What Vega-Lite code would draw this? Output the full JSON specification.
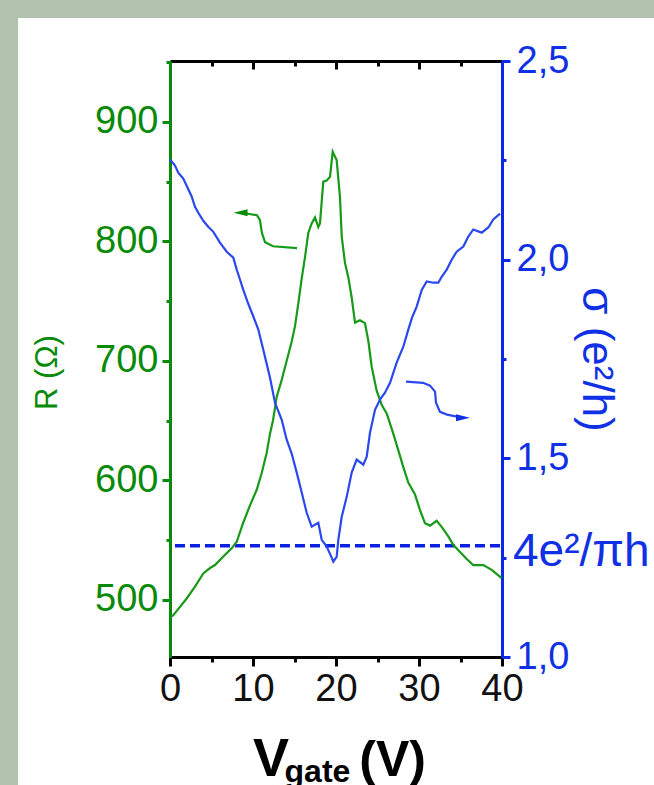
{
  "$schema": "https://vega.github.io/schema/vega-lite/v6.json",
  "width": 636,
  "height": 767,
  "autosize": {"type": "none"},
  "padding": {"left": 18, "top": 18, "right": 0, "bottom": 0},
  "background": "#b3c2ae",
  "config": {
    "view": {"stroke": null, "fill": "white"},
    "axis": {"grid": false, "labelOverlap": false, "labelFlush": false, "labelBound": false, "labelFont": "Liberation Sans", "titleFont": "Liberation Sans"}
  },
  "datasets": {
    "R": [
      {"V": 0.06, "R": 485.5}, {"V": 0.4, "R": 487}, {"V": 1.2, "R": 494}, {"V": 2.01, "R": 501}, {"V": 3.01, "R": 511},
      {"V": 4.01, "R": 522}, {"V": 4.82, "R": 526.5}, {"V": 5.42, "R": 529}, {"V": 6.39, "R": 536}, {"V": 7.43, "R": 543},
      {"V": 8.04, "R": 548.5}, {"V": 8.8, "R": 564}, {"V": 9.64, "R": 579}, {"V": 10.45, "R": 592}, {"V": 11.05, "R": 606},
      {"V": 11.65, "R": 623}, {"V": 12.05, "R": 639}, {"V": 12.41, "R": 650}, {"V": 12.86, "R": 670}, {"V": 13.46, "R": 684},
      {"V": 14.06, "R": 700}, {"V": 14.66, "R": 716}, {"V": 15.06, "R": 729}, {"V": 15.46, "R": 748}, {"V": 15.87, "R": 769},
      {"V": 16.27, "R": 787}, {"V": 16.66, "R": 807}, {"V": 17.07, "R": 815}, {"V": 17.47, "R": 820}, {"V": 17.87, "R": 812},
      {"V": 18.07, "R": 815}, {"V": 18.47, "R": 850}, {"V": 18.88, "R": 851}, {"V": 19.28, "R": 854}, {"V": 19.6, "R": 875},
      {"V": 20.08, "R": 868}, {"V": 20.48, "R": 837}, {"V": 20.69, "R": 804}, {"V": 21.08, "R": 782}, {"V": 21.48, "R": 770},
      {"V": 21.89, "R": 753}, {"V": 22.29, "R": 732}, {"V": 22.89, "R": 734}, {"V": 23.49, "R": 731.5}, {"V": 23.89, "R": 717},
      {"V": 24.3, "R": 695}, {"V": 24.9, "R": 675}, {"V": 25.51, "R": 663}, {"V": 26.11, "R": 656}, {"V": 26.9, "R": 639},
      {"V": 27.51, "R": 625}, {"V": 28.11, "R": 611}, {"V": 28.71, "R": 598}, {"V": 29.52, "R": 588}, {"V": 30.12, "R": 575},
      {"V": 30.72, "R": 564}, {"V": 31.33, "R": 562}, {"V": 32.13, "R": 566}, {"V": 32.73, "R": 561}, {"V": 33.53, "R": 553},
      {"V": 34.13, "R": 546}, {"V": 34.94, "R": 540}, {"V": 35.75, "R": 534}, {"V": 36.54, "R": 529}, {"V": 37.75, "R": 529},
      {"V": 38.76, "R": 525}, {"V": 39.96, "R": 518}
    ],
    "S": [
      {"V": 0, "s": 2.252}, {"V": 0.6, "s": 2.237}, {"V": 1.0, "s": 2.219}, {"V": 1.6, "s": 2.204}, {"V": 2.05, "s": 2.184},
      {"V": 2.61, "s": 2.159}, {"V": 3.01, "s": 2.133}, {"V": 3.41, "s": 2.118}, {"V": 4.01, "s": 2.098}, {"V": 4.61, "s": 2.083},
      {"V": 5.22, "s": 2.07}, {"V": 6.02, "s": 2.043}, {"V": 6.83, "s": 2.02}, {"V": 7.63, "s": 2.005}, {"V": 8.04, "s": 1.975},
      {"V": 8.43, "s": 1.95}, {"V": 8.83, "s": 1.924}, {"V": 9.43, "s": 1.889}, {"V": 10.04, "s": 1.857}, {"V": 10.64, "s": 1.824},
      {"V": 11.24, "s": 1.773}, {"V": 12.05, "s": 1.703}, {"V": 12.65, "s": 1.64}, {"V": 13.46, "s": 1.597}, {"V": 14.06, "s": 1.547},
      {"V": 14.66, "s": 1.512}, {"V": 15.27, "s": 1.464}, {"V": 15.87, "s": 1.414}, {"V": 16.47, "s": 1.363}, {"V": 17.07, "s": 1.328},
      {"V": 17.87, "s": 1.338}, {"V": 18.28, "s": 1.295}, {"V": 18.88, "s": 1.278}, {"V": 19.48, "s": 1.25}, {"V": 19.67, "s": 1.24},
      {"V": 20.08, "s": 1.252}, {"V": 20.28, "s": 1.295}, {"V": 20.69, "s": 1.353}, {"V": 21.29, "s": 1.403}, {"V": 21.89, "s": 1.464},
      {"V": 22.49, "s": 1.497}, {"V": 23.29, "s": 1.484}, {"V": 23.7, "s": 1.504}, {"V": 24.1, "s": 1.565}, {"V": 24.7, "s": 1.622},
      {"V": 25.3, "s": 1.648}, {"V": 25.9, "s": 1.665}, {"V": 26.51, "s": 1.69}, {"V": 27.31, "s": 1.741}, {"V": 28.11, "s": 1.781},
      {"V": 28.71, "s": 1.824}, {"V": 29.16, "s": 1.854}, {"V": 29.72, "s": 1.882}, {"V": 30.33, "s": 1.924}, {"V": 30.93, "s": 1.945},
      {"V": 31.72, "s": 1.942}, {"V": 32.33, "s": 1.942}, {"V": 32.73, "s": 1.957}, {"V": 33.34, "s": 1.975}, {"V": 33.94, "s": 2.0},
      {"V": 34.54, "s": 2.02}, {"V": 35.34, "s": 2.033}, {"V": 35.94, "s": 2.058}, {"V": 36.54, "s": 2.076}, {"V": 37.55, "s": 2.068},
      {"V": 38.35, "s": 2.081}, {"V": 38.95, "s": 2.101}, {"V": 39.76, "s": 2.116}
    ],
    "arrowR": [
      {"V": 8.6, "R": 823.8}, {"V": 9.04, "R": 823.5}, {"V": 10.48, "R": 821.9}, {"V": 10.84, "R": 817.7}, {"V": 11.08, "R": 806.8},
      {"V": 11.45, "R": 799.3}, {"V": 12.41, "R": 795.9}, {"V": 15.3, "R": 794.3}
    ],
    "headR": [{"V": 8.5, "R": 824}],
    "arrowS": [
      {"V": 28.43, "s": 1.693}, {"V": 30.48, "s": 1.69}, {"V": 31.33, "s": 1.683}, {"V": 31.93, "s": 1.668}, {"V": 32.05, "s": 1.64},
      {"V": 32.53, "s": 1.617}, {"V": 33.37, "s": 1.61}, {"V": 34.58, "s": 1.605}, {"V": 35.2, "s": 1.603}
    ],
    "headS": [{"V": 35.3, "s": 1.602}],
    "ref": [{"V0": 0.6, "V1": 40, "s": 1.28, "label": "4e²/πh"}],
    "xtitle": [{"t1": "V", "t2": "gate", "t3": "(V)", "x1": 10.0, "x2": 13.8, "x3": 22.8, "yb": 352, "ys": 347.3}]
  },
  "layer": [
    {
      "data": {"name": "ref"},
      "mark": {"type": "rule", "color": "#0a22e0", "strokeWidth": 3.5, "strokeDash": [10, 5]},
      "encoding": {
        "x": {"field": "V0", "type": "quantitative", "scale": {"domain": [0, 40], "range": [152, 484], "nice": false, "zero": false}, "axis": null},
        "x2": {"field": "V1"},
        "y": {"field": "s", "type": "quantitative", "scale": {"domain": [1, 2.5], "range": [639, 43], "nice": false, "zero": false}, "axis": null}
      }
    },
    {
      "data": {"name": "R"},
      "mark": {"type": "line", "color": "#179a17", "strokeWidth": 2.2},
      "encoding": {
        "x": {"field": "V", "type": "quantitative", "scale": {"domain": [0, 40], "range": [152, 484], "nice": false, "zero": false},
          "axis": {"orient": "bottom", "offset": -128, "values": [0, 5, 10, 15, 20, 25, 30, 35, 40],
            "labelExpr": "datum.value % 10 === 0 ? datum.label : ''",
            "tickSize": {"condition": {"test": "datum.value % 10 === 0", "value": 9}, "value": 5},
            "tickWidth": 3, "tickColor": "#000", "domainColor": "#000", "domainWidth": 3,
            "labelColor": "#111", "labelFontSize": 38, "labelPadding": 4, "title": null}},
        "y": {"field": "R", "type": "quantitative", "scale": {"domain": [452, 951], "range": [639, 43], "nice": false, "zero": false},
          "axis": {"orient": "left", "offset": -152, "values": [500, 550, 600, 650, 700, 750, 800, 850, 900, 950],
            "labelExpr": "datum.value % 100 === 0 ? datum.label : ''",
            "tickSize": {"condition": {"test": "datum.value % 100 === 0", "value": 8}, "value": 4},
            "tickWidth": 3, "tickColor": "#0a8a0a", "domainColor": "#0a8a0a", "domainWidth": 3,
            "labelColor": "#0a8a0a", "labelFontSize": 38, "labelPadding": 4,
            "title": "R (Ω)", "titleColor": "#0a8a0a", "titleFontSize": 31, "titleFontWeight": "normal",
            "titleX": -123, "titleY": 354, "titleAngle": 270, "titleBaseline": "middle", "titleAlign": "center"}}
      }
    },
    {
      "data": {"name": "S"},
      "mark": {"type": "line", "color": "#2a48ee", "strokeWidth": 2.2},
      "encoding": {
        "x": {"field": "V", "type": "quantitative", "scale": {"domain": [0, 40], "range": [152, 484], "nice": false, "zero": false},
          "axis": {"orient": "top", "offset": -43, "values": [0, 5, 10, 15, 20, 25, 30, 35, 40], "labels": false,
            "tickSize": {"condition": {"test": "datum.value % 10 === 0", "value": -8}, "value": -5},
            "tickWidth": 3, "tickColor": "#000", "domainColor": "#000", "domainWidth": 3, "title": null}},
        "y": {"field": "s", "type": "quantitative", "scale": {"domain": [1, 2.5], "range": [639, 43], "nice": false, "zero": false},
          "axis": {"orient": "right", "offset": -152, "values": [1, 1.25, 1.5, 1.75, 2, 2.25, 2.5],
            "labelExpr": "abs(datum.value * 2 - round(datum.value * 2)) < 0.01 ? replace(format(datum.value, '.1f'), '.', ',') : ''",
            "tickSize": {"condition": {"test": "abs(datum.value * 2 - round(datum.value * 2)) < 0.01", "value": 8}, "value": 4},
            "tickWidth": 3, "tickColor": "#0a28e8", "domainColor": "#0a28e8", "domainWidth": 3,
            "labelColor": "#1030e6", "labelFontSize": 38, "labelPadding": 6,
            "title": "σ (e²/h)", "titleColor": "#1030e6", "titleFontSize": 44, "titleFontWeight": "normal",
            "titleX": 93, "titleY": 341, "titleAngle": 90, "titleBaseline": "middle", "titleAlign": "center"}}
      }
    },
    {
      "data": {"name": "arrowR"},
      "mark": {"type": "line", "color": "#179a17", "strokeWidth": 2.2},
      "encoding": {
        "x": {"field": "V", "type": "quantitative", "scale": {"domain": [0, 40], "range": [152, 484], "nice": false, "zero": false}, "axis": null},
        "y": {"field": "R", "type": "quantitative", "scale": {"domain": [452, 951], "range": [639, 43], "nice": false, "zero": false}, "axis": null}
      }
    },
    {
      "data": {"name": "headR"},
      "mark": {"type": "point", "shape": "M-1,0L1,-0.5L1,0.5Z", "filled": true, "color": "#0a8a0a", "opacity": 1, "size": 196},
      "encoding": {
        "x": {"field": "V", "type": "quantitative", "scale": {"domain": [0, 40], "range": [152, 484], "nice": false, "zero": false}, "axis": null},
        "y": {"field": "R", "type": "quantitative", "scale": {"domain": [452, 951], "range": [639, 43], "nice": false, "zero": false}, "axis": null}
      }
    },
    {
      "data": {"name": "arrowS"},
      "mark": {"type": "line", "color": "#2a48ee", "strokeWidth": 2.2},
      "encoding": {
        "x": {"field": "V", "type": "quantitative", "scale": {"domain": [0, 40], "range": [152, 484], "nice": false, "zero": false}, "axis": null},
        "y": {"field": "s", "type": "quantitative", "scale": {"domain": [1, 2.5], "range": [639, 43], "nice": false, "zero": false}, "axis": null}
      }
    },
    {
      "data": {"name": "headS"},
      "mark": {"type": "point", "shape": "M1,0L-1,-0.5L-1,0.5Z", "filled": true, "color": "#1030e6", "opacity": 1, "size": 196},
      "encoding": {
        "x": {"field": "V", "type": "quantitative", "scale": {"domain": [0, 40], "range": [152, 484], "nice": false, "zero": false}, "axis": null},
        "y": {"field": "s", "type": "quantitative", "scale": {"domain": [1, 2.5], "range": [639, 43], "nice": false, "zero": false}, "axis": null}
      }
    },
    {
      "data": {"name": "ref"},
      "mark": {"type": "text", "align": "left", "baseline": "middle", "dx": 11, "dy": 6, "font": "Liberation Sans", "fontSize": 46, "color": "#1030e6"},
      "encoding": {
        "text": {"field": "label"},
        "x": {"field": "V1", "type": "quantitative", "scale": {"domain": [0, 40], "range": [152, 484], "nice": false, "zero": false}, "axis": null},
        "y": {"field": "s", "type": "quantitative", "scale": {"domain": [1, 2.5], "range": [639, 43], "nice": false, "zero": false}, "axis": null}
      }
    },
    {
      "data": {"name": "xtitle"},
      "mark": {"type": "text", "align": "left", "baseline": "alphabetic", "font": "Liberation Sans", "fontWeight": "bold", "fontSize": 54, "color": "#000"},
      "encoding": {
        "text": {"field": "t1"},
        "x": {"field": "x1", "type": "quantitative", "scale": {"domain": [0, 40], "range": [152, 484], "nice": false, "zero": false}, "axis": null},
        "y": {"field": "yb", "type": "quantitative", "scale": {"domain": [452, 951], "range": [639, 43], "nice": false, "zero": false}, "axis": null}
      }
    },
    {
      "data": {"name": "xtitle"},
      "mark": {"type": "text", "align": "left", "baseline": "alphabetic", "font": "Liberation Sans", "fontWeight": "bold", "fontSize": 32, "color": "#000"},
      "encoding": {
        "text": {"field": "t2"},
        "x": {"field": "x2", "type": "quantitative", "scale": {"domain": [0, 40], "range": [152, 484], "nice": false, "zero": false}, "axis": null},
        "y": {"field": "ys", "type": "quantitative", "scale": {"domain": [452, 951], "range": [639, 43], "nice": false, "zero": false}, "axis": null}
      }
    },
    {
      "data": {"name": "xtitle"},
      "mark": {"type": "text", "align": "left", "baseline": "alphabetic", "font": "Liberation Sans", "fontWeight": "bold", "fontSize": 50, "color": "#000"},
      "encoding": {
        "text": {"field": "t3"},
        "x": {"field": "x3", "type": "quantitative", "scale": {"domain": [0, 40], "range": [152, 484], "nice": false, "zero": false}, "axis": null},
        "y": {"field": "yb", "type": "quantitative", "scale": {"domain": [452, 951], "range": [639, 43], "nice": false, "zero": false}, "axis": null}
      }
    }
  ],
  "resolve": {"scale": {"y": "independent"}, "axis": {"x": "independent"}}
}
